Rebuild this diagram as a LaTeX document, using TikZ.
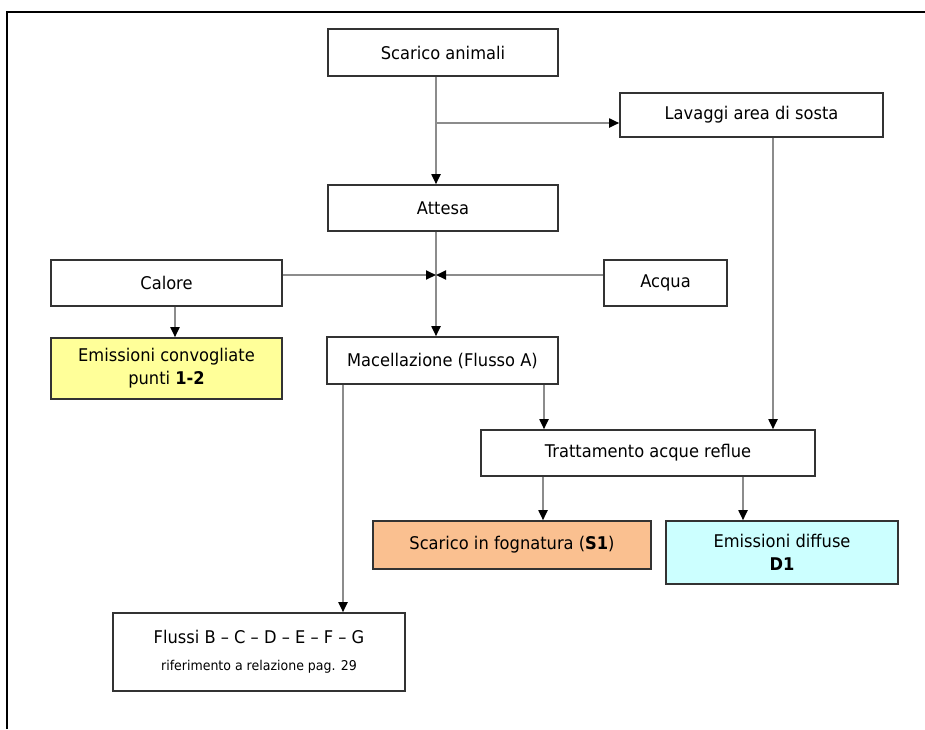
\documentclass[tikz,border=0pt]{standalone}
\usepackage{fontspec}
\setmainfont{DejaVu Sans}[FakeStretch=0.93]
\usepackage{tikz}
\usetikzlibrary{arrows.meta}
\usetikzlibrary{positioning}
\definecolor{boxline}{HTML}{333333}
\definecolor{flowline}{HTML}{8C8C8C}
\definecolor{giallo}{HTML}{FFFF99}
\definecolor{arancio}{HTML}{FAC090}
\definecolor{azzurro}{HTML}{CCFFFF}
\tikzstyle{fase}=[draw=boxline, line width=1.6pt, fill=white, inner sep=0pt,
    align=center, font=\fontsize{17.5}{23}\selectfont]
\tikzstyle{flow}=[draw=flowline, line width=1.8pt,
    -{Triangle[length=10pt,width=9pt,color=black]}]

\begin{document}
\begin{tikzpicture}[x=1pt, y=-1pt]
          \useasboundingbox (0,0) rectangle (925,729);
          \draw[line width=2.6pt] (7,729) -- (7,12) -- (925,12);
          \node[fase, minimum width=230pt, minimum height=47pt] (sca) at (443,52.5){Scarico animali};
          \node[fase, minimum width=263pt, minimum height=44pt] (lav) at (751.5,115){Lavaggi area di sosta};
          \node[fase, minimum width=230pt, minimum height=46pt] (att) at (443,208){Attesa};
          \node[fase, minimum width=231pt, minimum height=46pt] (cal) at (166.5,283){Calore};
          \node[fase, minimum width=123pt, minimum height=46pt] (acq) at (665.5,283){Acqua};
          \node[fase, fill=giallo, minimum width=231pt, minimum height=61pt] (emc) at (166.5,368.5){Emissioni convogliate\\punti \textbf{1-2}};
          \node[fase, minimum width=231pt, minimum height=47pt] (mac) at (442.5,360.5){Macellazione (Flusso A)};
          \node[fase, minimum width=334pt, minimum height=46pt] (tra) at (648,453){Trattamento acque reflue};
          \node[fase, fill=arancio, minimum width=278pt, minimum height=48pt] (fog) at (512,545){Scarico in fognatura (\textbf{S1})};
          \node[fase, fill=azzurro, minimum width=232pt, minimum height=63pt] (emd) at (782,552.5){Emissioni diffuse\\\textbf{D1}};
          \node[fase, minimum width=292pt, minimum height=78pt] (flu) at (259,652){Flussi B -- C -- D -- E -- F -- G\\[4pt]{\fontsize{13.5}{16}\selectfont riferimento a relazione pag. 29}};
          \coordinate (j1) at (436,123);
          \coordinate (j2) at (436,275);
          \draw[flow] ([xshift=-7pt]sca.south) -- ([xshift=-7pt]att.north);
          \draw[flow] (j1) -- (lav.west |- j1);
          \draw[flow] ([xshift=-7pt]att.south) -- ([xshift=-7pt]att.south |- mac.north);
          \draw[flow] (cal.east |- j2) -- (j2);
          \draw[flow] (acq.west |- j2) -- (j2);
          \draw[flow] ([xshift=8.5pt]cal.south) -- ([xshift=8.5pt]emc.north);
          \draw[flow] ([xshift=21.5pt]lav.south) -- ([xshift=21.5pt]lav.south |- tra.north);
          \draw[flow] ([xshift=101.5pt]mac.south) -- ([xshift=101.5pt]mac.south |- tra.north);
          \draw[flow] ([xshift=-99.5pt]mac.south) -- ([xshift=-99.5pt]mac.south |- flu.north);
          \draw[flow] ([xshift=-105pt]tra.south) -- ([xshift=-105pt]tra.south |- fog.north);
          \draw[flow] ([xshift=95pt]tra.south) -- ([xshift=95pt]tra.south |- emd.north);
        \end{tikzpicture}
\end{document}
